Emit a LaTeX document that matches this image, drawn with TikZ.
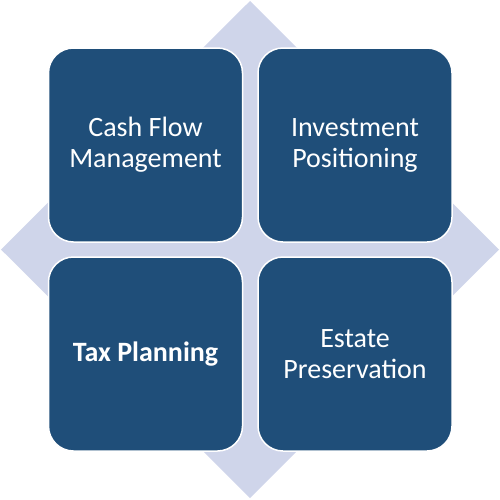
\documentclass[tikz,border=0pt]{standalone}
\usepackage{fontspec}
\setmainfont{Carlito}
\definecolor{boxblue}{HTML}{1F4E79}
\definecolor{diamondgray}{HTML}{CFD5EA}
\tikzstyle{block} = [draw = white, fill = boxblue, text = white, text centered, minimum height = 194pt, minimum width = 194pt, rounded corners = 25pt, line width = 1.5pt, font = \fontsize{28}{31}\selectfont]

\begin{document}
\begin{tikzpicture}[x = 1pt, y = -1pt]
		\useasboundingbox (0, 0) rectangle (500, 499);
		\fill [diamondgray] (250, 1) -- (499, 249.5) -- (250, 498) -- (1, 249.5) -- cycle;
		\node [block, align = center] at (145.5, 145) (cash) {Cash Flow\\Management};
		\node [block, align = center] at (355, 145) (invest) {Investment\\Positioning};
		\node [block, align = center] at (145.5, 354) (tax) {\textbf{Tax Planning}};
		\node [block, align = center] at (355, 354) (estate) {Estate\\Preservation};
	\end{tikzpicture}
\end{document}
